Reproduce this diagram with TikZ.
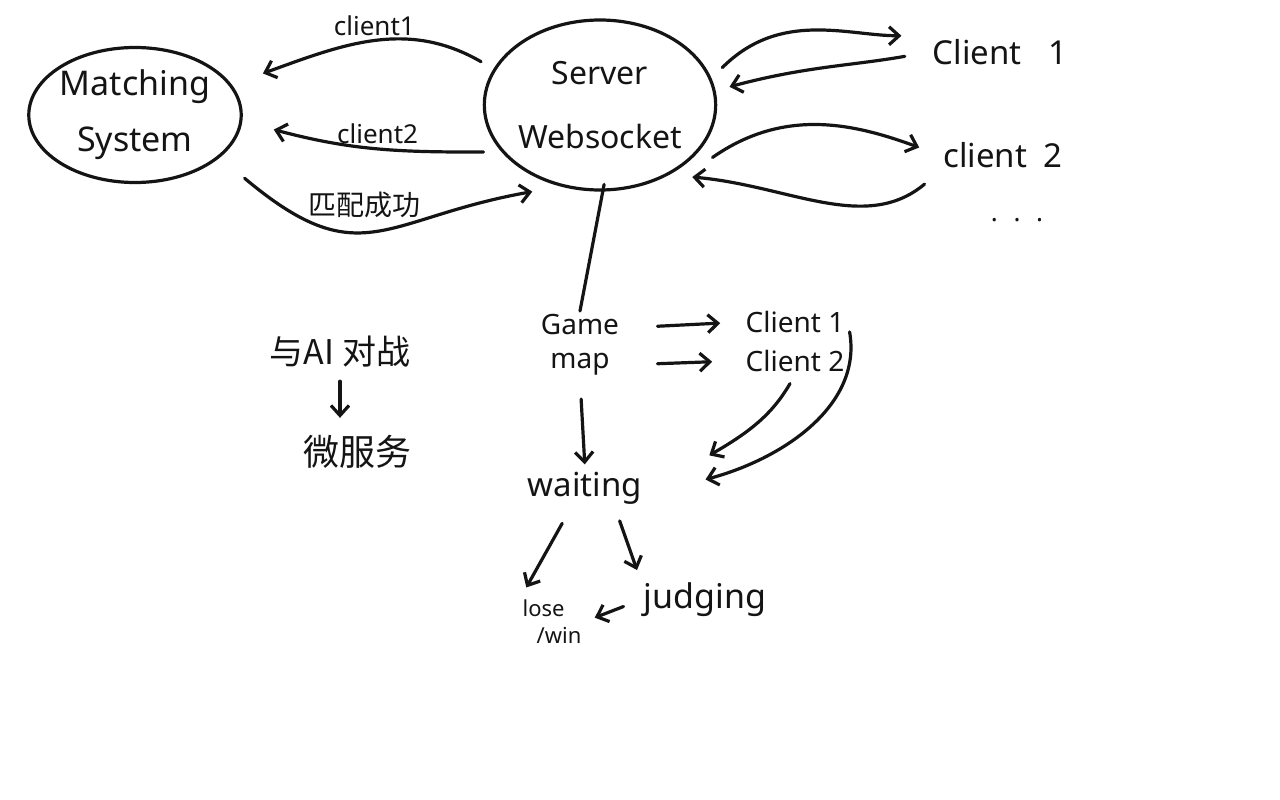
\documentclass[tikz,border=0pt]{standalone}
\usepackage{fontspec}
\setmainfont{Noto Sans}
\newfontfamily\cjk{Noto Sans CJK SC}
\usepackage{tikz}
\usetikzlibrary{arrows.meta,positioning,shapes.geometric}
\definecolor{ink}{HTML}{141414}

\begin{document}
\begin{tikzpicture}[
  x=1pt,y=1pt,
  >={Straight Barb[length=10pt,width=18pt]},
  bubble/.style={draw=ink,ellipse,line width=3.2pt,inner sep=0pt,align=center,
                 text=ink,font=\fontsize{34}{40}\selectfont},
  big/.style={text=ink,font=\fontsize{33}{38}\selectfont},
  mid/.style={text=ink,font=\fontsize{28}{34}\selectfont},
  tag/.style={text=ink,font=\fontsize{26}{30}\selectfont},
  han/.style={text=ink,font=\cjk\fontsize{34}{40}\selectfont},
  flow/.style={->,draw=ink,line width=3.2pt,line cap=round},
  link/.style={draw=ink,line width=3.2pt,line cap=round}
]
\fill[white] (0,0) rectangle (1280,-800);
\useasboundingbox (0,0) rectangle (1280,-800);

\node[bubble,minimum width=208pt,minimum height=135pt,outer sep=34pt] (matching) at (135,-115) {Matching\\[16pt]System};
\node[bubble,font=\fontsize{32}{38}\selectfont,minimum width=218pt,minimum height=170pt,outer sep=16pt] (server) at (600,-105) {Server\\[26pt]Websocket};
\node[big] (client1r) at (1000,-52) {Client\hspace{0.8em}1};
\node[big] (client2r) at (1003,-155) {client\hspace{0.5em}2};
\node[tag] (dots) at (1017,-220) {.\hspace{0.6em}.\hspace{0.6em}.};

\node[mid,align=center] (game) at (580,-345) {Game\\map};
\node[mid] (gclient1) at (795,-322) {Client 1};
\node[mid,below=10pt of gclient1] (gclient2) {Client 2};
\node[big] (waiting) at (585,-488) {waiting};
\node[big,font=\fontsize{34}{40}\selectfont] (judging) at (705,-600) {judging};
\node[text=ink,font=\fontsize{22}{27}\selectfont,align=left,inner sep=2pt] (result) at (552,-622) {lose\\\hspace{14pt}/win};

\node[han] (ai) at (340,-352) {与AI 对战};
\node[han,font=\cjk\fontsize{36}{42}\selectfont] (micro) at (357,-452) {微服务};

% matching system <-> server
\draw[flow] (server.160) to[out=150,in=20] node[tag,above]{client1} (matching.18);
\draw[flow] (server.202) to[out=180,in=-15] node[tag,above]{client2} (matching.-6);
\draw[flow] (matching.-30) to[out=-40,in=190,looseness=1.35] node[han,pos=0.45,above=10pt,font=\cjk\fontsize{28}{32}\selectfont]{匹配成功} (server.232);

% server <-> clients
\draw[flow,shorten >=28pt] (server.17) to[out=45,in=180] (client1r.north west);
\draw[flow,shorten <=25pt] (client1r.west) to[out=190,in=15] (server.8);
\draw[flow,shorten >=22pt] (server.-25) to[out=35,in=160] (client2r.west);
\draw[flow,shorten <=20pt] (client2r.south west) to[out=220,in=-5] (server.-38);

% game flow
\draw[link,shorten <=-22pt] (server.south) -- (game.north);
\draw[flow,shorten <=35pt,shorten >=22pt] ([yshift=17pt]game.east) -- (gclient1.west);
\draw[flow,shorten <=35pt,shorten >=30pt] ([yshift=-20pt]game.east) -- (gclient2.west);
\draw[flow,shorten <=10pt,shorten >=2pt] (gclient2.south) to[out=240,in=30] ([xshift=62pt,yshift=12pt]waiting.north east);
\draw[flow,shorten <=10pt,shorten >=2pt] (gclient1.east) to[out=-80,in=15] ([xshift=58pt,yshift=8pt]waiting.east);
\draw[flow,shorten <=20pt,shorten >=4pt] (game.south) -- (waiting.north);
\draw[flow,shorten <=18pt,shorten >=12pt] ([xshift=-14pt]waiting.south) -- (result.north west);
\draw[flow,shorten <=14pt,shorten >=10pt] ([xshift=30pt]waiting.south) -- (judging.north west);
\draw[flow,shorten <=18pt,shorten >=12pt] (judging.west) -- (result.east);

% AI branch
\draw[flow,shorten <=10pt,shorten >=14pt] (ai.south) -- (ai.south |- micro.north);
\end{tikzpicture}
\end{document}
